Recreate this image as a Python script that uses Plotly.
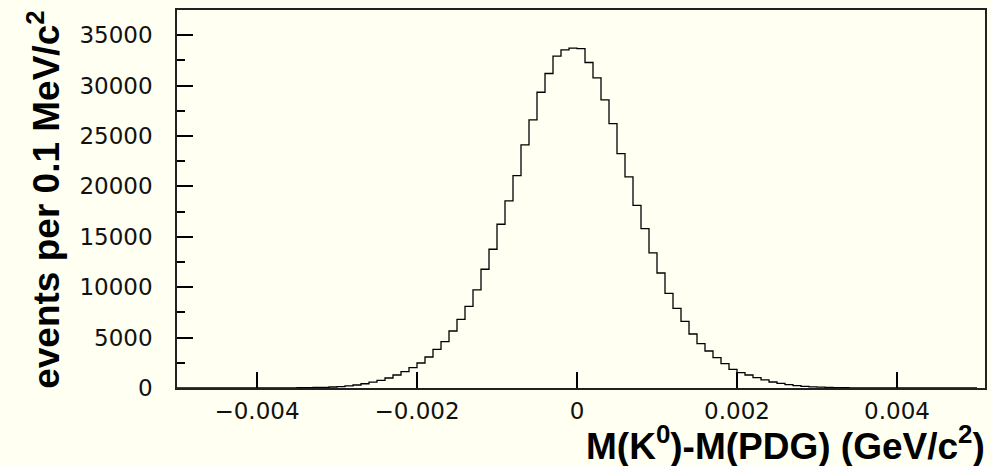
import plotly.graph_objects as go

# Histogram: 100 bins of 0.1 MeV from -0.005 to 0.005 GeV
bin_low = -0.005
bin_width = 0.0001
counts = [
    0, 0, 1, 1, 1, 2, 2, 3, 4, 5,
    6, 8, 11, 15, 20, 27, 36, 50, 70, 99,
    140, 210, 300, 420, 580, 764, 992, 1290, 1627, 2024,
    2481, 3076, 3840, 4604, 5656, 6800, 8090, 9725, 11779, 13763,
    16244, 18570, 21076, 24113, 26594, 29342, 31198, 32915, 33540, 33708,
    33675, 32290, 30761, 28578, 26236, 23259, 20938, 18110, 15817, 13396,
    11411, 9397, 7909, 6619, 5358, 4406, 3672, 3017, 2421, 1856,
    1528, 1290, 1032, 810, 595, 466, 340, 240, 170, 115,
    85, 65, 45, 32, 22, 16, 11, 8, 6, 4,
    3, 2, 2, 1, 1, 1, 1, 0, 0, 0,
]
edges = [round(bin_low + i * bin_width, 6) for i in range(len(counts) + 1)]

x_ticks = [-0.004, -0.002, 0, 0.002, 0.004]
x_ticklabels = ["\u22120.004", "\u22120.002", "0", "0.002", "0.004"]
y_ticks = [0, 5000, 10000, 15000, 20000, 25000, 30000, 35000]
y_ticklabels = [str(v) for v in y_ticks]

bg = "#fffff2"

fig = go.Figure()
fig.add_trace(go.Scatter(
    x=edges,
    y=counts + [counts[-1]],
    mode="lines",
    line=dict(shape="hv", color="black", width=1.3),
    hoverinfo="skip",
    showlegend=False,
))

tickfont = dict(family="DejaVu Sans", size=23, color="#111111")

fig.update_layout(
    width=992, height=466,
    margin=dict(l=177, r=5, t=10, b=78),
    paper_bgcolor=bg, plot_bgcolor=bg,
    xaxis=dict(
        range=[-0.005, 0.0051],
        tickvals=x_ticks, ticktext=x_ticklabels,
        ticks="inside", ticklen=16, tickwidth=1.5, tickcolor="black",
        showline=True, linecolor="#222222", linewidth=1.5, mirror=True,
        showgrid=False, zeroline=False,
        tickfont=tickfont, ticklabelstandoff=2,
    ),
    yaxis=dict(
        range=[0, 37500],
        tickvals=y_ticks, ticktext=y_ticklabels,
        ticks="inside", ticklen=16, tickwidth=1.5, tickcolor="black",
        minor=dict(dtick=2500, ticks="inside", ticklen=8, tickwidth=1.5, tickcolor="black"),
        showline=True, linecolor="#222222", linewidth=1.5, mirror=True,
        showgrid=False, zeroline=False,
        tickfont=tickfont, ticklabelstandoff=18,
    ),
    annotations=[
        dict(
            text="<b>M(K<sup>0</sup>)-M(PDG) (GeV/c<sup>2</sup>)</b>",
            xref="paper", yref="paper", x=1.003, y=-0.146,
            xanchor="right", yanchor="middle", showarrow=False,
            font=dict(family="Liberation Sans", size=37, color="black"),
        ),
        dict(
            text="<b>events per 0.1 MeV/c<sup>2</sup></b>",
            xref="paper", yref="paper", x=-0.165, y=0.497,
            xanchor="center", yanchor="middle", showarrow=False, textangle=-90,
            font=dict(family="Liberation Sans", size=37, color="black"),
        ),
    ],
)

fig.write_html("out.html")
